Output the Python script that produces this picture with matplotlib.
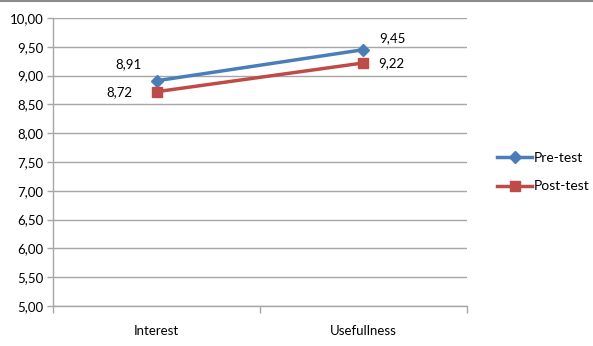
import numpy as np
import matplotlib.pyplot as plt
from matplotlib.lines import Line2D

categories = ['Interest', 'Usefullness']
pre_test = [8.91, 9.45]
post_test = [8.72, 9.22]
y_ticks = np.arange(5.0, 10.01, 0.5)

plt.rcParams['font.family'] = ['Lato', 'DejaVu Sans']

fig = plt.figure(figsize=(5.93, 3.46), dpi=100)
ax = fig.add_axes([0.0894, 0.1156, 0.7875 - 0.0894, 0.948 - 0.1156])

x = np.arange(len(categories))
blue = '#4a7ebb'
red = '#be4b48'
grid_c = '#a6a6a6'
fs = 9.5

ax.plot(x, pre_test, color=blue, lw=2.5, marker='D', ms=6, label='Pre-test', zorder=3)
ax.plot(x, post_test, color=red, lw=2.5, marker='s', ms=7, label='Post-test', zorder=3)

# data labels
ax.annotate('8,91', (x[0], pre_test[0]), xytext=(-20, 12), textcoords='offset points',
            ha='center', va='center', fontsize=fs)
ax.annotate('9,45', (x[1], pre_test[1]), xytext=(21, 8), textcoords='offset points',
            ha='center', va='center', fontsize=fs)
ax.annotate('8,72', (x[0], post_test[0]), xytext=(-27, 0), textcoords='offset points',
            ha='center', va='center', fontsize=fs)
ax.annotate('9,22', (x[1], post_test[1]), xytext=(20, 0), textcoords='offset points',
            ha='center', va='center', fontsize=fs)

ax.set_xlim(-0.5, 1.5)
ax.set_ylim(5, 10)
ax.set_yticks(y_ticks)
ax.set_yticklabels([f'{v:.2f}'.replace('.', ',') for v in y_ticks], fontsize=fs)
ax.set_xticks(x)
ax.set_xticklabels(categories, fontsize=fs)
ax.tick_params(axis='x', length=0, pad=14)
ax.set_xticks([-0.5, 0.5, 1.5], minor=True)
ax.tick_params(axis='x', which='minor', length=5, color=grid_c, width=1)
ax.tick_params(axis='y', length=4, color=grid_c, width=1, pad=3)

ax.grid(axis='y', color=grid_c, lw=1)
ax.set_axisbelow(True)
for s in ['top', 'right']:
    ax.spines[s].set_visible(False)
for s in ['left', 'bottom']:
    ax.spines[s].set_color(grid_c)
    ax.spines[s].set_linewidth(1)

ax.legend(loc='center left', bbox_to_anchor=(1.06, 0.465), frameon=False, fontsize=fs + 0.5,
          handlelength=2.5, handletextpad=0.1, labelspacing=1.2, borderaxespad=0)

# chart frame line at the top
fig.add_artist(Line2D([0, 1], [0.996, 0.996], transform=fig.transFigure,
                      color='#8c8c8c', lw=1.5))

fig.savefig('out.png', dpi=100)
